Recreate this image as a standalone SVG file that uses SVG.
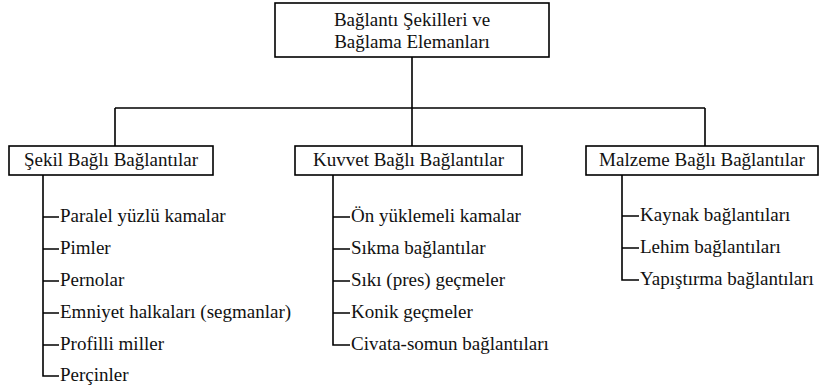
<svg xmlns="http://www.w3.org/2000/svg" width="820" height="390" viewBox="0 0 820 390">
<style>
.box{fill:#fff;stroke:#000;stroke-width:1.6}
.ln{fill:none;stroke:#000;stroke-width:1.6}
text{font-size:19px;fill:#111}
.c{text-anchor:middle}
</style>
<rect width="820" height="390" fill="#fff"/>
<g id="connectors">
<path class="ln" d="M412 57V108M115 108H705M115 108V146M412 108V146M705 108V146"/>
<path class="ln" d="M43 175V376H59M43 217H59M43 249H59M43 281H59M43 313H59M43 345H59"/>
<path class="ln" d="M333 175V345H350M333 217H350M333 249H350M333 281H350M333 313H350"/>
<path class="ln" d="M622 175V280H639M622 216H639M622 248H639"/>
</g>
<g font-family="Liberation Serif, Times New Roman, DejaVu Serif, serif">
<g id="root">
<rect class="box" x="275" y="3" width="274" height="54"/>
<text class="c" x="412" y="26">Bağlantı Şekilleri ve</text>
<text class="c" x="412" y="48">Bağlama Elemanları</text>
</g>
<g id="sekil">
<rect class="box" x="9" y="146" width="204" height="29"/>
<text class="c" x="111" y="166">Şekil Bağlı Bağlantılar</text>
</g>
<g id="kuvvet">
<rect class="box" x="295" y="146" width="227" height="29"/>
<text class="c" x="408.5" y="166">Kuvvet Bağlı Bağlantılar</text>
</g>
<g id="malzeme">
<rect class="box" x="586" y="146" width="232" height="29"/>
<text class="c" x="702" y="166">Malzeme Bağlı Bağlantılar</text>
</g>
<g id="sekil-items">
<text x="60" y="222">Paralel yüzlü kamalar</text>
<text x="60" y="254">Pimler</text>
<text x="60" y="286">Pernolar</text>
<text x="60" y="318">Emniyet halkaları (segmanlar)</text>
<text x="60" y="350">Profilli miller</text>
<text x="60" y="381">Perçinler</text>
</g>
<g id="kuvvet-items">
<text x="351" y="222">Ön yüklemeli kamalar</text>
<text x="351" y="254">Sıkma bağlantılar</text>
<text x="351" y="286">Sıkı (pres) geçmeler</text>
<text x="351" y="318">Konik geçmeler</text>
<text x="351" y="350">Civata-somun bağlantıları</text>
</g>
<g id="malzeme-items">
<text x="640" y="221">Kaynak bağlantıları</text>
<text x="640" y="253">Lehim bağlantıları</text>
<text x="640" y="285">Yapıştırma bağlantıları</text>
</g>
</g>
</svg>
